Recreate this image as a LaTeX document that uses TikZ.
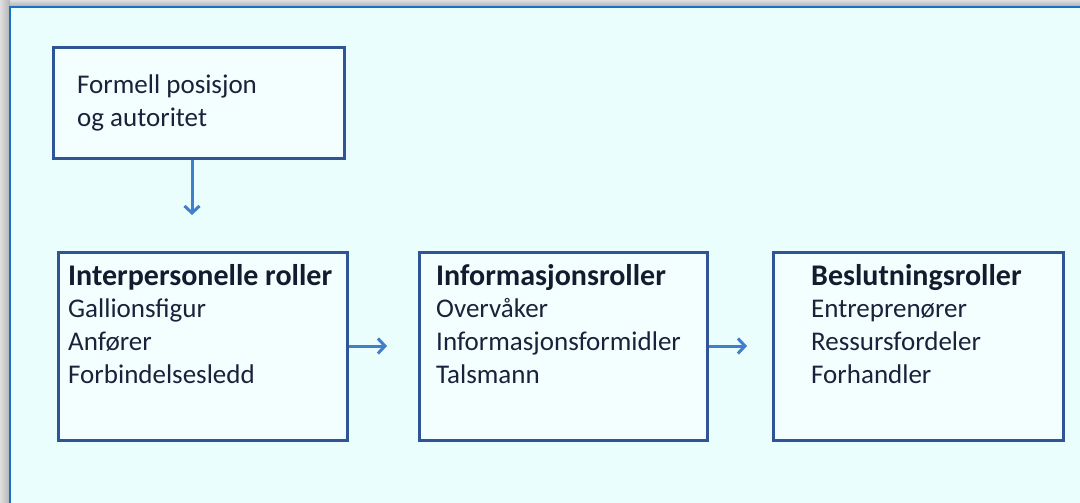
\documentclass[tikz,border=0pt]{standalone}
\usepackage{fontspec}
\setmainfont{Carlito}
\usetikzlibrary{arrows.meta}
\definecolor{panelbg}{HTML}{EAFEFE}
\definecolor{boxbg}{HTML}{F3FFFF}
\definecolor{panelline}{HTML}{1A70C4}
\definecolor{boxline}{HTML}{2F5597}
\definecolor{arrowblue}{HTML}{3F7FCB}
\definecolor{txt}{HTML}{18223A}
\tikzset{
  rolebox/.style={draw=boxline, fill=boxbg, line width=3.4pt, inner sep=0pt, anchor=north west},
  rolehead/.style={anchor=base west, inner sep=0pt, font=\fontsize{30}{33}\selectfont\bfseries, text=txt!80!black},
  roleitem/.style={anchor=base west, inner sep=0pt, font=\fontsize{27}{33}\selectfont, text=txt},
  flow/.style={draw=arrowblue, line width=3pt, -{Straight Barb[length=7pt,width=15pt,line width=3pt]}}
}
\begin{document}
\begin{tikzpicture}[x=1pt,y=-1pt]
\useasboundingbox (0,0) rectangle (1080,503);
% window shadow and panel
\shade[top color=gray!25, bottom color=gray!65] (0,0) rectangle (1080,7);
\shade[left color=gray!25, right color=gray!60] (0,0) rectangle (10,503);
\fill[panelbg] (10,7) rectangle (1080,503);
\draw[panelline, line width=2.6pt] (10,503) -- (10,7) -- (1080,7);

% boxes
\node[rolebox, minimum width=291pt, minimum height=111pt] (top) at (52,46) {};
\node[rolebox, minimum width=289pt, minimum height=188pt] (inter) at (57,251) {};
\node[rolebox, minimum width=288pt, minimum height=188pt] (info) at (418,251) {};
\node[rolebox, minimum width=290pt, minimum height=188pt] (besl) at (772,251) {};

% texts
\node[roleitem] (top1) at (77,94) {Formell posisjon};
\node[roleitem] (top2) at (77,127) {og autoritet};

\node[rolehead] (interh) at (68,285) {Interpersonelle roller};
\node[roleitem] (inter1) at (68,317) {Gallionsfigur};
\node[roleitem] (inter2) at (68,350) {Anfører};
\node[roleitem] (inter3) at (68,383) {Forbindelsesledd};

\node[rolehead] (infoh) at (436,285) {Informasjonsroller};
\node[roleitem] (info1) at (436,317) {Overvåker};
\node[roleitem] (info2) at (436,350) {Informasjonsformidler};
\node[roleitem] (info3) at (436,383) {Talsmann};

\node[rolehead] (beslh) at (811,285) {Beslutningsroller};
\node[roleitem] (besl1) at (811,317) {Entreprenører};
\node[roleitem] (besl2) at (811,350) {Ressursfordeler};
\node[roleitem] (besl3) at (811,383) {Forhandler};

% connectors
\coordinate (downend) at (192,215);
\coordinate (infoend) at (387,346);
\coordinate (beslend) at (747,346);
\draw[flow] (top.south -| downend) -- (downend);
\draw[flow] (inter.east |- infoend) -- (infoend);
\draw[flow] (info.east |- beslend) -- (beslend);
\end{tikzpicture}
\end{document}
